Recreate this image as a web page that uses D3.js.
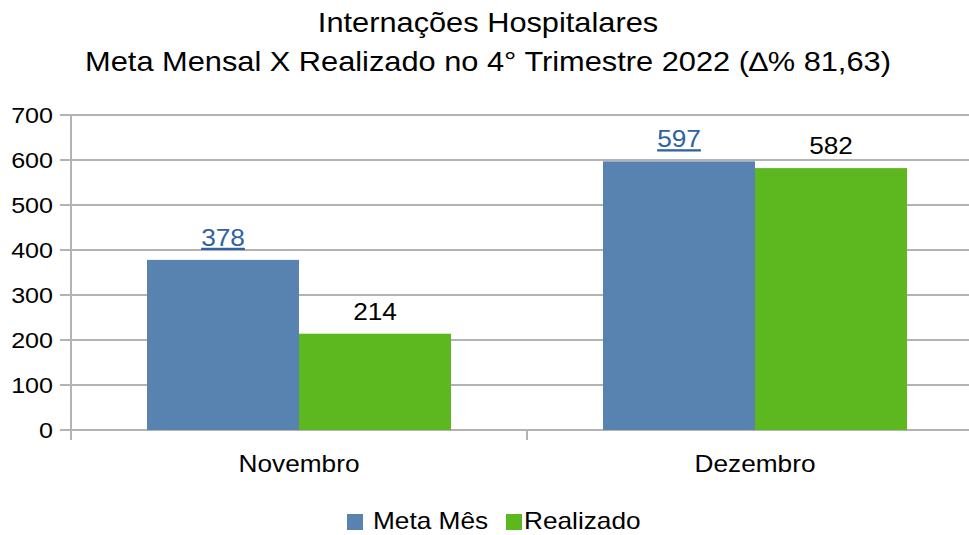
<!DOCTYPE html>
<html>
<head>
<meta charset="utf-8">
<script src="https://cdn.jsdelivr.net/npm/d3@7"></script>
<style>
  body { margin: 0; background: #fff; }
  text { font-family: "Liberation Sans", Arial, sans-serif; }
</style>
</head>
<body>
<div id="chart"></div>
<script>
var categories = ["Novembro", "Dezembro"];
var seriesNames = ["Meta Mês", "Realizado"];
var metaMes = [378, 597];
var realizado = [214, 582];
var yTicks = [0, 100, 200, 300, 400, 500, 600, 700];
var titleLines = ["Internações Hospitalares", "Meta Mensal X Realizado no 4° Trimestre 2022 (∆% 81,63)"];

var colors = ["#5882b0", "#5db71f"];
var labelColors = ["#2f62a0", "#000"];
var sx = 1.14; // the original text is a bit wider than our font

var W = 969, H = 535;
var svg = d3.select("#chart").append("svg")
    .attr("width", W).attr("height", H);

// place a text with a horizontal stretch around its anchor point
function place(sel, fx, fy) {
    sel.attr("transform", function(d, i) {
        return "translate(" + fx(d, i) + "," + fy(d, i) + ") scale(" + sx + ",1)";
    });
}

// scales
var x0 = d3.scaleBand().domain(categories).range([71, 983]).paddingInner(0).paddingOuter(0);
var x1 = d3.scaleBand().domain(seriesNames).range([0, x0.bandwidth()]).paddingInner(0).paddingOuter(0.5);
var y = d3.scaleLinear().domain([0, 700]).range([430, 115]);

// gridlines
svg.append("g")
   .selectAll("line")
   .data(yTicks)
   .join("line")
   .attr("x1", 60).attr("x2", W)
   .attr("y1", function(d) { return y(d); })
   .attr("y2", function(d) { return y(d); })
   .style("stroke", "#b3b3b3")
   .style("stroke-width", 2);

// y axis labels
var yl = svg.append("g")
   .selectAll("text")
   .data(yTicks)
   .join("text")
   .attr("text-anchor", "end")
   .attr("dy", "0.35em")
   .style("font-size", "22px")
   .text(function(d) { return d; });
place(yl, function() { return 53; }, function(d) { return y(d); });

svg.append("line")
   .attr("x1", 71).attr("x2", 71).attr("y1", 115).attr("y2", 440)
   .style("stroke", "#b3b3b3").style("stroke-width", 2);

// category ticks
svg.append("g")
   .selectAll("line")
   .data([0, 1, 2])
   .join("line")
   .attr("x1", function(d) { return 71 + d * x0.step(); })
   .attr("x2", function(d) { return 71 + d * x0.step(); })
   .attr("y1", 430).attr("y2", 440)
   .style("stroke", "#b3b3b3").style("stroke-width", 2);

// bars
var groups = svg.append("g")
   .selectAll("g")
   .data(categories)
   .join("g")
   .attr("transform", function(d) { return "translate(" + x0(d) + ",0)"; });

var seriesData = [metaMes, realizado];
function cells(d, i) {
    return seriesNames.map(function(s, j) { return { s: s, j: j, v: seriesData[j][i] }; });
}
groups.selectAll("rect")
   .data(cells)
   .join("rect")
   .attr("x", function(d) { return x1(d.s); })
   .attr("width", x1.bandwidth())
   .attr("y", function(d) { return y(d.v); })
   .attr("height", function(d) { return y(0) - y(d.v); })
   .style("fill", function(d) { return colors[d.j]; });

// value labels
var vl = groups.selectAll("text.val")
   .data(cells)
   .join("text")
   .attr("class", "val")
   .attr("text-anchor", "middle")
   .style("font-size", "23px")
   .style("fill", function(d) { return labelColors[d.j]; })
   .style("text-decoration", function(d) { return d.j === 0 ? "underline" : "none"; })
   .text(function(d) { return d.v; });
place(vl, function(d) { return x1(d.s) + x1.bandwidth() / 2; }, function(d) { return y(d.v) - 14; });

// category labels
var cl = svg.append("g")
   .selectAll("text")
   .data(categories)
   .join("text")
   .attr("text-anchor", "middle")
   .style("font-size", "23px")
   .text(function(d) { return d; });
place(cl, function(d) { return x0(d) + x0.bandwidth() / 2; }, function() { return 472; });

// title
var tl = svg.append("g")
   .selectAll("text")
   .data(titleLines)
   .join("text")
   .attr("text-anchor", "middle")
   .style("font-size", "27px")
   .text(function(d) { return d; });
place(tl, function() { return 488; }, function(d, i) { return 32 + i * 39; });

// legend
var legendX = [347, 506];
var leg = svg.append("g")
   .selectAll("g")
   .data(seriesNames)
   .join("g")
   .attr("transform", function(d, i) { return "translate(" + legendX[i] + ",514)"; });
leg.append("rect")
   .attr("width", 16).attr("height", 16)
   .style("fill", function(d, i) { return colors[i]; });
var lt = leg.append("text")
   .style("font-size", "23px")
   .text(function(d) { return d; });
place(lt, function(d, i) { return i === 0 ? 26 : 18; }, function() { return 15; });
</script>
</body>
</html>
